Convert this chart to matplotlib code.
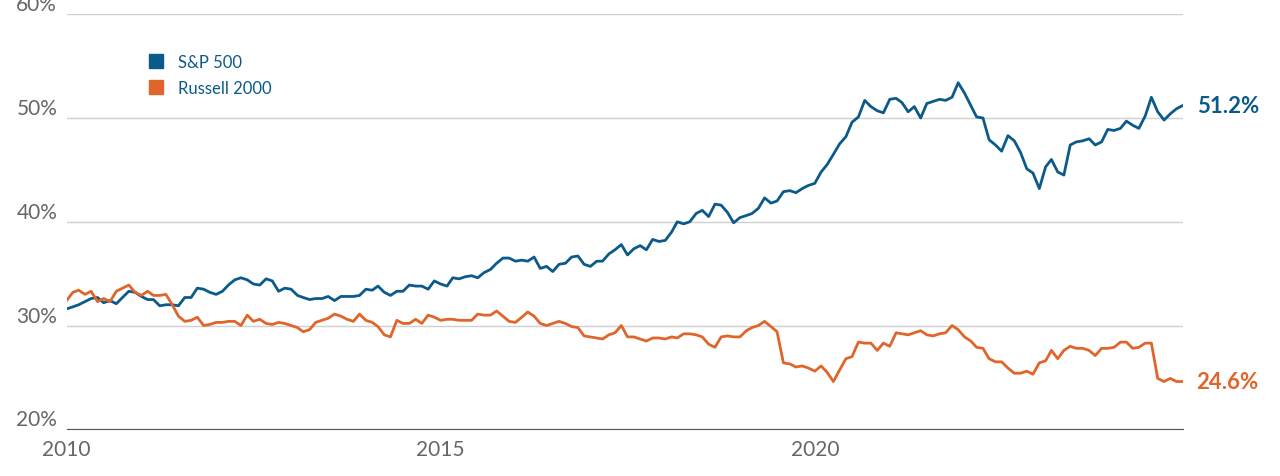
import numpy as np
import pandas as pd
import matplotlib.pyplot as plt

plt.rcParams['font.family'] = 'Lato'

# monthly values, Jan 2010 - Dec 2024
sp500 = [
    31.6, 31.8, 32.0, 32.3, 32.6, 32.7, 32.2, 32.4, 32.1, 32.7, 33.3, 33.2,
    32.8, 32.5, 32.5, 31.9, 32.0, 32.0, 31.9, 32.7, 32.7, 33.6, 33.5, 33.2,
    33.0, 33.3, 33.9, 34.4, 34.6, 34.4, 34.0, 33.9, 34.5, 34.3, 33.3, 33.6,
    33.5, 32.9, 32.7, 32.5, 32.6, 32.6, 32.8, 32.4, 32.8, 32.8, 32.8, 32.9,
    33.5, 33.4, 33.8, 33.2, 32.9, 33.3, 33.3, 33.9, 33.8, 33.8, 33.5, 34.3,
    34.0, 33.8, 34.6, 34.5, 34.7, 34.8, 34.6, 35.1, 35.4, 36.0, 36.5, 36.5,
    36.2, 36.3, 36.2, 36.6, 35.5, 35.7, 35.2, 35.9, 36.0, 36.6, 36.7, 35.9,
    35.7, 36.2, 36.2, 36.9, 37.3, 37.8, 36.8, 37.4, 37.7, 37.3, 38.3, 38.1,
    38.2, 39.0, 40.0, 39.8, 40.0, 40.8, 41.1, 40.5, 41.7, 41.6, 40.9, 39.9,
    40.4, 40.6, 40.8, 41.3, 42.3, 41.8, 42.0, 42.9, 43.0, 42.8, 43.2, 43.5,
    43.7, 44.8, 45.5, 46.5, 47.5, 48.2, 49.6, 50.1, 51.7, 51.1, 50.7, 50.5,
    51.8, 51.9, 51.5, 50.6, 51.1, 50.0, 51.4, 51.6, 51.8, 51.7, 52.0, 53.4,
    52.4, 51.2, 50.1, 50.0, 47.9, 47.4, 46.8, 48.3, 47.8, 46.7, 45.1, 44.7,
    43.2, 45.3, 46.0, 44.8, 44.5, 47.4, 47.7, 47.8, 48.0, 47.4, 47.7, 48.9,
    48.8, 49.0, 49.7, 49.3, 49.0, 50.2, 52.0, 50.6, 49.8, 50.4, 50.9, 51.2,
]
russell = [
    32.4, 33.2, 33.4, 33.0, 33.3, 32.3, 32.6, 32.3, 33.3, 33.6, 33.9, 33.2,
    32.9, 33.3, 32.9, 32.9, 33.0, 32.0, 30.9, 30.4, 30.5, 30.8, 30.0, 30.1,
    30.3, 30.3, 30.4, 30.4, 30.0, 31.0, 30.4, 30.6, 30.2, 30.1, 30.3, 30.2,
    30.0, 29.8, 29.4, 29.6, 30.3, 30.5, 30.7, 31.1, 30.9, 30.6, 30.4, 31.1,
    30.5, 30.3, 29.9, 29.1, 28.9, 30.5, 30.2, 30.2, 30.6, 30.2, 31.0, 30.8,
    30.5, 30.6, 30.6, 30.5, 30.5, 30.5, 31.1, 31.0, 31.0, 31.4, 30.9, 30.4,
    30.3, 30.8, 31.3, 30.9, 30.2, 30.0, 30.2, 30.4, 30.2, 29.9, 29.8, 29.0,
    28.9, 28.8, 28.7, 29.1, 29.3, 30.0, 28.9, 28.9, 28.7, 28.5, 28.8, 28.8,
    28.7, 28.9, 28.8, 29.2, 29.2, 29.1, 28.9, 28.2, 27.9, 28.9, 29.0, 28.9,
    28.9, 29.5, 29.8, 30.0, 30.4, 29.9, 29.4, 26.4, 26.3, 26.0, 26.1, 25.9,
    25.6, 26.1, 25.5, 24.6, 25.7, 26.8, 27.0, 28.4, 28.3, 28.3, 27.6, 28.3,
    28.0, 29.3, 29.2, 29.1, 29.3, 29.5, 29.1, 29.0, 29.2, 29.3, 30.0, 29.6,
    28.9, 28.5, 27.9, 27.8, 26.8, 26.5, 26.5, 25.9, 25.4, 25.4, 25.6, 25.3,
    26.4, 26.6, 27.6, 26.8, 27.6, 28.0, 27.8, 27.8, 27.6, 27.1, 27.8, 27.8,
    27.9, 28.4, 28.4, 27.8, 27.9, 28.3, 28.3, 24.9, 24.6, 24.9, 24.6, 24.6,
]
dates = pd.date_range('2010-01-01', periods=len(sp500), freq='MS')

blue = '#0b5a8a'
orange = '#e0652a'

fig, ax = plt.subplots(figsize=(12.8, 4.77), dpi=100)
fig.subplots_adjust(left=0.052, right=0.924, top=0.968, bottom=0.098)

ax.plot(dates, sp500, color=blue, lw=2.0, label='S&P 500')
ax.plot(dates, russell, color=orange, lw=2.0, label='Russell 2000')

ax.set_ylim(20, 60)
ax.set_xlim(dates[0], dates[-1])
ax.set_yticks([20, 30, 40, 50, 60])
ax.set_yticklabels(['20%', '30%', '40%', '50%', '60%'])
ax.set_xticks(pd.to_datetime(['2010-01-01', '2015-01-01', '2020-01-01']))
ax.set_xticklabels(['2010', '2015', '2020'])
ax.grid(axis='y', color='#d0d0d0', lw=1)
ax.set_axisbelow(True)
for s in ax.spines.values():
    s.set_visible(False)
ax.spines['bottom'].set_visible(True)
ax.spines['bottom'].set_color('#555555')
ax.tick_params(axis='both', length=0, labelsize=15, colors='#666666')
ax.tick_params(axis='x', pad=7)
ax.tick_params(axis='y', pad=0)
for lbl in ax.get_yticklabels():
    lbl.set_horizontalalignment('left')
    lbl.set_x(-0.045)
    lbl.set_verticalalignment('bottom')

ax.annotate('51.2%', (dates[-1], sp500[-1]), xytext=(10, 0), textcoords='offset points',
            color=blue, fontsize=16, fontweight='bold', va='center')
ax.annotate('24.6%', (dates[-1], russell[-1]), xytext=(10, 0), textcoords='offset points',
            color=orange, fontsize=16, fontweight='bold', va='center')

h1 = plt.Line2D([], [], marker='s', ls='', color=blue, markersize=10)
h2 = plt.Line2D([], [], marker='s', ls='', color=orange, markersize=10)
leg = ax.legend([h1, h2], ['S&P 500', 'Russell 2000'], loc='upper left',
                bbox_to_anchor=(0.052, 0.94), frameon=False, fontsize=12,
                handletextpad=0.3, labelspacing=0.6)
for t in leg.get_texts():
    t.set_color(blue)

fig.savefig('out.png')
